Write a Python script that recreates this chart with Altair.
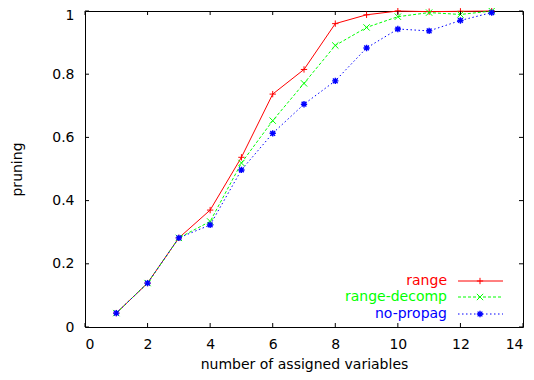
import altair as alt
import pandas as pd

# ---- data ----
n_vars = list(range(1, 14))
range_vals = [0.044, 0.139, 0.282, 0.370, 0.537, 0.737, 0.815, 0.960, 0.988, 1.000, 0.998, 0.999, 1.000]
decomp_vals = [0.044, 0.139, 0.282, 0.334, 0.519, 0.653, 0.771, 0.891, 0.948, 0.982, 0.995, 0.989, 1.000]
nopropag_vals = [0.044, 0.139, 0.282, 0.323, 0.497, 0.613, 0.705, 0.779, 0.883, 0.943, 0.937, 0.970, 0.995]
series_names = ["range", "range-decomp", "no-propag"]
x_ticks = [0, 2, 4, 6, 8, 10, 12, 14]
y_ticks = [0, 0.2, 0.4, 0.6, 0.8, 1]

W, H = 438, 316
FONT = "DejaVu Sans"
FS = 14

series_vals = [range_vals, decomp_vals, nopropag_vals]
colors = ["#ff0000", "#00ff00", "#0000ff"]
dashes = [None, [3, 2], [1.5, 2.5]]
shapes = [
    "M-1,0L1,0M0,-1L0,1",
    "M-1,-1L1,1M-1,1L1,-1",
    "M-1,0L1,0M0,-1L0,1M-0.75,-0.75L0.75,0.75M-0.75,0.75L0.75,-0.75",
]
marker_width = [1, 1, 1.4]

xscale = alt.Scale(domain=[0, 14], nice=False, zero=False)
yscale = alt.Scale(domain=[0, 1], nice=False, zero=False)
xaxis = alt.Axis(values=x_ticks, title="number of assigned variables",
                 labelPadding=10, titlePadding=6)
yaxis = alt.Axis(values=y_ticks, title="pruning", format="~g",
                 labelPadding=11, titlePadding=27,
                 labelOffset={"condition": {"test": "datum.value == 1", "value": 4.5}, "value": 0})


def X(f):
    return alt.X(f, scale=xscale, axis=xaxis, title="number of assigned variables")


def Y(f):
    return alt.Y(f, scale=yscale, axis=yaxis, title="pruning")


layers = []
for i, (name, vals) in enumerate(zip(series_names, series_vals)):
    df = pd.DataFrame({"n": n_vars, "p": vals, "series": name})
    line_kw = dict(color=colors[i], strokeWidth=1)
    if dashes[i] is not None:
        line_kw["strokeDash"] = dashes[i]
    layers.append(alt.Chart(df).mark_line(**line_kw).encode(x=X("n:Q"), y=Y("p:Q")))
    layers.append(alt.Chart(df).mark_point(shape=shapes[i], size=40, filled=False,
                                           stroke=colors[i], strokeWidth=marker_width[i], opacity=1)
                  .encode(x=X("n:Q"), y=Y("p:Q")))

# inward gnuplot-style ticks on all four sides
xt = pd.DataFrame({"t": x_ticks})
yt = pd.DataFrame({"t": y_ticks})
TK = 4
layers.append(alt.Chart(xt).mark_rule(color="black", strokeWidth=1).encode(
    x=X("t:Q"), y=alt.value(H), y2=alt.value(H - TK)))
layers.append(alt.Chart(xt).mark_rule(color="black", strokeWidth=1).encode(
    x=X("t:Q"), y=alt.value(0), y2=alt.value(TK)))
layers.append(alt.Chart(yt).mark_rule(color="black", strokeWidth=1).encode(
    y=Y("t:Q"), x=alt.value(0), x2=alt.value(TK)))
layers.append(alt.Chart(yt).mark_rule(color="black", strokeWidth=1).encode(
    y=Y("t:Q"), x=alt.value(W), x2=alt.value(W - TK)))

# legend (label then sample, gnuplot style)
leg_rows = [270, 286, 303]
leg_text_x = 362
leg_l0, leg_l1, leg_m = 373, 418, 395
for i, name in enumerate(series_names):
    ldf = pd.DataFrame({"series": [name]})
    layers.append(alt.Chart(ldf).mark_text(align="right", baseline="middle", font=FONT,
                                           fontSize=FS, color=colors[i]).encode(
        text="series:N", x=alt.value(leg_text_x), y=alt.value(leg_rows[i])))
    rule_kw = dict(color=colors[i], strokeWidth=1)
    if dashes[i] is not None:
        rule_kw["strokeDash"] = dashes[i]
    layers.append(alt.Chart(ldf).mark_rule(**rule_kw).encode(
        x=alt.value(leg_l0), x2=alt.value(leg_l1), y=alt.value(leg_rows[i])))
    layers.append(alt.Chart(ldf).mark_point(shape=shapes[i], size=40, filled=False,
                                            stroke=colors[i], strokeWidth=marker_width[i], opacity=1).encode(
        x=alt.value(leg_m), y=alt.value(leg_rows[i])))

chart = alt.layer(*layers).properties(
    width=W, height=H,
    autosize=alt.AutoSizeParams(type="none"),
    padding={"left": 77, "top": 3, "right": 3, "bottom": 45},
).configure_view(stroke="black", strokeWidth=1).configure_axis(
    grid=False, ticks=False, domain=False,
    labelFont=FONT, labelFontSize=FS, labelColor="black",
    titleFont=FONT, titleFontSize=FS, titleFontWeight="normal", titleColor="black",
)

chart.save("out.html", embed_options={"renderer": "svg", "actions": False})
